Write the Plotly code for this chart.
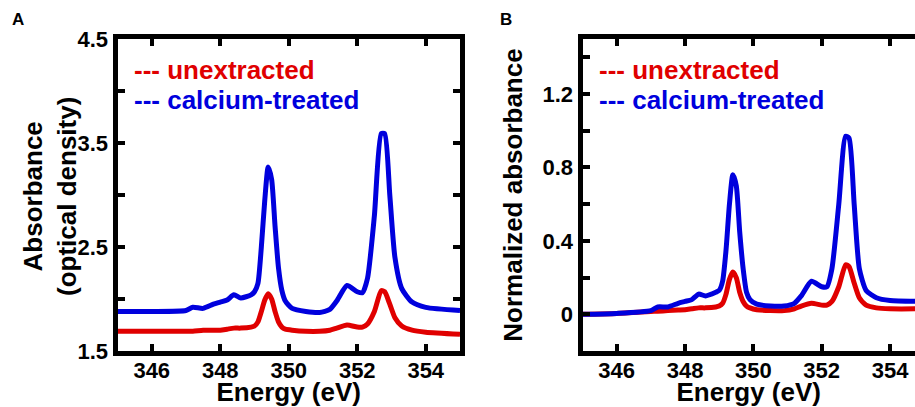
import plotly.graph_objects as go

energy = [345.0, 346.0, 347.0, 347.2, 347.5, 347.8, 348.0, 348.2, 348.4, 348.6, 348.9, 349.0, 349.1,
          349.2, 349.3, 349.4, 349.5, 349.6, 349.7, 349.8, 349.9, 350.1, 350.5, 350.9, 351.2, 351.4,
          351.7, 352.0, 352.15, 352.3, 352.5, 352.7, 352.8, 352.95, 353.1, 353.3, 353.6, 354.0, 355.0]

abs_calcium = [1.88, 1.88, 1.89, 1.92, 1.91, 1.95, 1.97, 1.99, 2.04, 2.01, 2.04, 2.07, 2.15,
               2.5, 2.95, 3.27, 3.15, 2.7, 2.3, 2.08, 1.98, 1.91, 1.88, 1.87, 1.90, 1.98,
               2.13, 2.07, 2.06, 2.2, 2.8, 3.59, 3.59, 3.0, 2.4, 2.1, 1.97, 1.92, 1.89]
abs_unextracted = [1.69, 1.69, 1.69, 1.69, 1.70, 1.70, 1.70, 1.71, 1.72, 1.72, 1.73, 1.74, 1.78,
                   1.88, 1.99, 2.05, 2.0, 1.88, 1.78, 1.73, 1.71, 1.70, 1.69, 1.69, 1.70, 1.72,
                   1.75, 1.73, 1.73, 1.76, 1.88, 2.08, 2.07, 1.95, 1.82, 1.74, 1.70, 1.68, 1.66]

norm_calcium = [0.0, 0.005, 0.02, 0.04, 0.04, 0.06, 0.07, 0.08, 0.11, 0.10, 0.12, 0.13, 0.18,
                0.35, 0.6, 0.76, 0.7, 0.45, 0.25, 0.12, 0.08, 0.055, 0.045, 0.045, 0.06, 0.1,
                0.18, 0.15, 0.15, 0.25, 0.6, 0.97, 0.96, 0.6, 0.25, 0.13, 0.09, 0.075, 0.07]
norm_unextracted = [0.0, 0.005, 0.015, 0.017, 0.02, 0.023, 0.025, 0.03, 0.035, 0.035, 0.04, 0.045, 0.06,
                    0.11, 0.19, 0.23, 0.2, 0.12, 0.07, 0.045, 0.035, 0.025, 0.02, 0.02, 0.03, 0.045,
                    0.06, 0.05, 0.05, 0.07, 0.15, 0.27, 0.26, 0.17, 0.09, 0.05, 0.035, 0.03, 0.03]

x_ticks = [346, 348, 350, 352, 354]
ya_ticks = [1.5, 2.0, 2.5, 3.0, 3.5, 4.0, 4.5]
ya_labels = ["1.5", "", "2.5", "", "3.5", "", "4.5"]
yb_ticks = [0, 0.2, 0.4, 0.6, 0.8, 1.0, 1.2, 1.4]
yb_labels = ["0", "", "0.4", "", "0.8", "", "1.2", ""]

RED = "#e00000"
BLUE = "#0000dd"
FONT = "Liberation Sans, Arial, sans-serif"

fig = go.Figure()
line_kw = dict(mode="lines", line_shape="spline", showlegend=False, hoverinfo="skip")
fig.add_trace(go.Scatter(x=energy, y=abs_unextracted, xaxis="x", yaxis="y",
                         line=dict(color=RED, width=5, smoothing=0.6), **line_kw))
fig.add_trace(go.Scatter(x=energy, y=abs_calcium, xaxis="x", yaxis="y",
                         line=dict(color=BLUE, width=5, smoothing=0.6), **line_kw))
fig.add_trace(go.Scatter(x=energy, y=norm_unextracted, xaxis="x2", yaxis="y2",
                         line=dict(color=RED, width=5, smoothing=0.6), **line_kw))
fig.add_trace(go.Scatter(x=energy, y=norm_calcium, xaxis="x2", yaxis="y2",
                         line=dict(color=BLUE, width=5, smoothing=0.6), **line_kw))

tickfont = dict(family=FONT, size=22, color="black", weight="bold")
titlefont = dict(family=FONT, size=26, color="black", weight="bold")
common_axis = dict(showline=True, linewidth=5, linecolor="black", ticks="inside", ticklen=7,
                   tickwidth=4, tickcolor="black", showgrid=False, zeroline=False,
                   tickfont=tickfont, automargin=False)

W, H = 915, 407
ydom = [1 - 351 / H, 1 - 39 / H]

fig.update_layout(
    template="none",
    width=W, height=H, margin=dict(l=0, r=0, t=0, b=0, autoexpand=False),
    paper_bgcolor="white", plot_bgcolor="white",
    xaxis=dict(domain=[117.5 / W, 460 / W], range=[345, 355], tickmode="array", tickvals=x_ticks,
               mirror="ticks", anchor="y", ticklabelstandoff=-4,
               title=dict(text="Energy (eV)", font=titlefont, standoff=7), **common_axis),
    yaxis=dict(domain=ydom, range=[1.5, 4.5], tickmode="array", tickvals=ya_ticks, ticktext=ya_labels,
               mirror="ticks", anchor="x", **common_axis),
    xaxis2=dict(domain=[582.5 / W, 1.0], range=[345, 354.73], tickmode="array", tickvals=x_ticks,
                mirror="ticks", anchor="y2", ticklabelstandoff=-4,
                title=dict(text="Energy (eV)", font=titlefont, standoff=7), **common_axis),
    yaxis2=dict(domain=ydom, range=[-0.2, 1.5], tickmode="array", tickvals=yb_ticks, ticktext=yb_labels,
                mirror=False, anchor="x2",
                title=dict(text="Normalized absorbance", font=titlefont, standoff=14),
                **common_axis),
)

legend_font = lambda c: dict(family=FONT, size=26, color=c, weight="bold")

annotations = [
    dict(text="Absorbance<br>(optical density)", xref="paper", yref="paper", x=50 / W, y=1 - 197 / H,
         xanchor="center", yanchor="middle", textangle=-90, showarrow=False, font=titlefont),
    dict(text="--- unextracted", xref="paper", yref="paper", x=132 / W, y=1 - 70 / H,
         xanchor="left", yanchor="middle", showarrow=False, font=legend_font(RED)),
    dict(text="--- calcium-treated", xref="paper", yref="paper", x=132 / W, y=1 - 100 / H,
         xanchor="left", yanchor="middle", showarrow=False, font=legend_font(BLUE)),
    dict(text="--- unextracted", xref="paper", yref="paper", x=597 / W, y=1 - 70 / H,
         xanchor="left", yanchor="middle", showarrow=False, font=legend_font(RED)),
    dict(text="--- calcium-treated", xref="paper", yref="paper", x=597 / W, y=1 - 100 / H,
         xanchor="left", yanchor="middle", showarrow=False, font=legend_font(BLUE)),
    dict(text="A", xref="paper", yref="paper", x=17.5 / W, y=1 - 20 / H, xanchor="center",
         yanchor="middle", showarrow=False, font=dict(family=FONT, size=17, color="black", weight="bold")),
    dict(text="B", xref="paper", yref="paper", x=506 / W, y=1 - 19.5 / H, xanchor="center",
         yanchor="middle", showarrow=False, font=dict(family=FONT, size=17, color="black", weight="bold")),
]
fig.update_layout(annotations=annotations)

fig.write_html("out.html", config={"displayModeBar": False},
               post_script="document.body.style.margin='0';document.body.style.overflow='hidden';")
